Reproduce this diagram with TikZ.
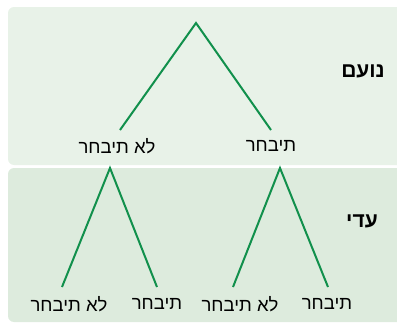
\documentclass[tikz,border=0pt]{standalone}
\usepackage{fontspec}
\setmainfont{Liberation Sans}
\newfontfamily\hebfont[Script=Hebrew]{Liberation Sans}
\TeXXeTstate=1
\definecolor{paneltop}{HTML}{E8F2E8}
\definecolor{panelbot}{HTML}{DDEBDD}
\definecolor{treegreen}{HTML}{11904C}
\begin{document}
\begin{tikzpicture}[x=1pt,y=-1pt,
  branch/.style={draw=treegreen,line width=2pt},
  leaf/.style={font=\hebfont\fontsize{18.5}{22}\selectfont,inner sep=0pt,anchor=center},
  player/.style={font=\hebfont\bfseries\fontsize{21}{24}\selectfont,inner sep=0pt}]
\useasboundingbox (0,0) rectangle (397,324);
\fill[paneltop,rounded corners=6pt] (8,7) rectangle (410,165);
\fill[panelbot,rounded corners=6pt] (8,168) rectangle (410,322);
% top tree
\coordinate (r) at (196,23);
\coordinate (a) at (120,130);
\coordinate (b) at (271,130);
\draw[branch] (a) -- (r) -- (b);
\node[leaf] (la) at (117,146) {\beginR לא תיבחר\endR};
\node[leaf] (lb) at (271,146) {\beginR תיבחר\endR};
\node[player] (p1) at (363,71) {\beginR נועם\endR};
% bottom trees
\coordinate (s1) at (110,168);
\coordinate (c1) at (62,287);
\coordinate (c2) at (157,287);
\coordinate (s2) at (280,168);
\coordinate (d1) at (233,287);
\coordinate (d2) at (328,287);
\draw[branch] (c1) -- (s1) -- (c2);
\draw[branch] (d1) -- (s2) -- (d2);
\node[leaf] (l1) at (69,304) {\beginR לא תיבחר\endR};
\node[leaf] (l2) at (157,304) {\beginR תיבחר\endR};
\node[leaf] (l3) at (240,304) {\beginR לא תיבחר\endR};
\node[leaf] (l4) at (327,304) {\beginR תיבחר\endR};
\node[player] (p2) at (362,221) {\beginR עדי\endR};
\end{tikzpicture}
\end{document}
